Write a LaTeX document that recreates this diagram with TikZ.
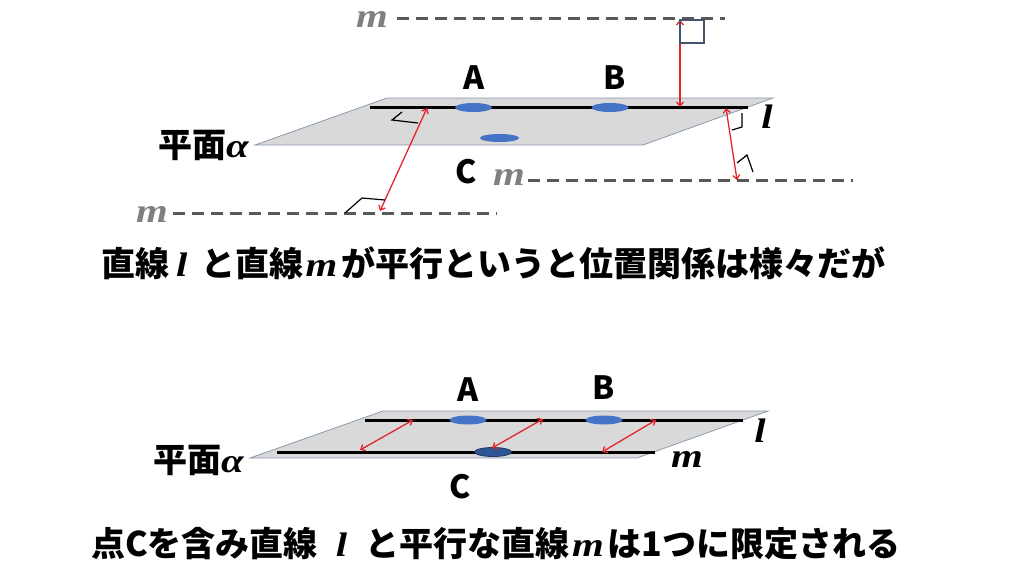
\documentclass[tikz,border=0pt]{standalone}
\usepackage{fontspec}
\newfontfamily\jp{Noto Sans CJK JP}
\newfontfamily\vf{Liberation Serif}[FakeStretch=1.2]
\newcommand{\vv}[1]{{\vf\bfseries\itshape #1}}
\usetikzlibrary{shapes.geometric,arrows.meta}
\definecolor{planegray}{HTML}{D9D9D9}
\definecolor{planeedge}{HTML}{8A9AB0}
\definecolor{ptblue}{HTML}{4472C4}
\definecolor{ptdark}{HTML}{2F5597}
\definecolor{ptedge}{HTML}{1F3864}
\definecolor{dashgray}{HTML}{595959}
\definecolor{mgray}{HTML}{808080}
\definecolor{arrred}{HTML}{E3262B}
\definecolor{sqcol}{HTML}{44546A}
\tikzset{
  plane/.style={fill=planegray,draw=planeedge,line width=0.8pt},
  lline/.style={draw=black,line width=3pt},
  mdash/.style={draw=dashgray,line width=3pt,dash pattern=on 12pt off 7pt},
  pt/.style={ellipse,fill=ptblue,minimum width=37pt,minimum height=9pt,inner sep=0pt},
  ptc/.style={ellipse,fill=ptdark,draw=ptedge,line width=0.8pt,minimum width=37pt,minimum height=9pt,inner sep=0pt},
  redarr/.style={draw=arrred,line width=1.3pt,{Straight Barb[length=4pt,width=7pt]}-{Straight Barb[length=4pt,width=7pt]}},
  ramark/.style={draw=black,line width=1.2pt},
  sqmark/.style={draw=sqcol,line width=1.1pt},
  ptlabel/.style={font=\jp\bfseries\fontsize{32}{36}\selectfont,inner sep=0pt},
  jplabel/.style={font=\jp\bfseries\fontsize{34}{40}\selectfont,inner sep=0pt},
  varlabel/.style={font=\vf\bfseries\itshape\fontsize{34}{40}\selectfont,inner sep=0pt,anchor=base},
  caption/.style={font=\jp\bfseries\fontsize{34}{40}\selectfont,inner sep=0pt,anchor=base west},
}
\begin{document}
\begin{tikzpicture}[x=1pt,y=-1pt]
\useasboundingbox (0,0) rectangle (1024,576);
% ---------- top figure ----------
\draw[plane] (255,145) -- (387,98) -- (773,98) -- (643,145) -- cycle;
\coordinate (l1s) at (370,107);
\coordinate (l1e) at (748,107);
\draw[lline] (l1s) -- (l1e);
\node[pt] (pA) at (473.5,107.5) {};
\node[pt] (pB) at (610,107.5) {};
\node[pt,minimum width=39pt,minimum height=8pt] (pC) at (499.5,138) {};
\node[ptlabel] (lA) at (474,78) {A};
\node[ptlabel] (lB) at (615,78) {B};
\node[ptlabel] (lC) at (466,172) {C};
\node[jplabel,anchor=east] (alpha1) at (249,145) {平面\vv{α}};
\node[varlabel] (lab-l1) at (767,128) {l};
% dashed m lines
\coordinate (mTs) at (397,18);  \coordinate (mTe) at (725,18);
\coordinate (mMs) at (528,180); \coordinate (mMe) at (853,180);
\coordinate (mLs) at (173,213); \coordinate (mLe) at (497,213);
\draw[mdash] (mTs) -- (mTe);
\draw[mdash] (mMs) -- (mMe);
\draw[mdash] (mLs) -- (mLe);
\node[varlabel,text=mgray] (mT) at (372,27) {m};
\node[varlabel,text=mgray] (mM) at (509,185) {m};
\node[varlabel,text=mgray] (mL) at (152,222) {m};
% red arrows
\coordinate (a1a) at (680,20);  \coordinate (a1b) at (680,107);
\coordinate (a2a) at (427,108); \coordinate (a2b) at (380,211);
\coordinate (a3a) at (726,108); \coordinate (a3b) at (737,180);
\draw[redarr] (a1a) -- (a1b);
\draw[redarr] (a2a) -- (a2b);
\draw[redarr] (a3a) -- (a3b);
% right angle marks
\draw[sqmark] (680,20) rectangle (704,43);
\draw[ramark] (402,112) -- (392,120) -- (418,123);
\draw[ramark] (345,213) -- (362,198) -- (385,200);
\draw[ramark] (742,113) -- (742,127) -- (732,130);
\draw[ramark] (737,163) -- (747,155) -- (753,172);
% caption 1
\node[caption] (cap1) at (101,276) {直線\hspace{7pt}\vv{l}\hspace{14pt}と直線\hspace{2pt}\vv{m}\hspace{4pt}が平行というと位置関係は様々だが};
% ---------- bottom figure ----------
\draw[plane] (250,458) -- (383,411) -- (768,411) -- (637,458) -- cycle;
\coordinate (l2s) at (365,420); \coordinate (l2e) at (743,420);
\coordinate (m2s) at (277,452); \coordinate (m2e) at (655,452);
\draw[lline] (l2s) -- (l2e);
\draw[lline] (m2s) -- (m2e);
\node[pt] (qA) at (468,420) {};
\node[pt] (qB) at (604,420) {};
\node[ptc] (qC) at (493,452) {};
\node[ptlabel] (kA) at (468,390) {A};
\node[ptlabel] (kB) at (604,388) {B};
\node[ptlabel] (kC) at (460,487) {C};
\node[jplabel,anchor=east] (alpha2) at (244,460) {平面\vv{α}};
\node[varlabel] (lab-l2) at (760,442) {l};
\node[varlabel] (lab-m2) at (687,467) {m};
\coordinate (b1a) at (360,450); \coordinate (b1b) at (413,420);
\coordinate (b2a) at (492,448); \coordinate (b2b) at (543,419);
\coordinate (b3a) at (602,452); \coordinate (b3b) at (656,420);
\draw[redarr] (b1a) -- (b1b);
\draw[redarr] (b2a) -- (b2b);
\draw[redarr] (b3a) -- (b3b);
% caption 2
\node[caption] (cap2) at (91,556) {点Cを含み直線\hspace{18pt}\vv{l}\hspace{18pt}と平行な直線\hspace{3pt}\vv{m}\hspace{4pt}は1つに限定される};
\end{tikzpicture}
\end{document}
